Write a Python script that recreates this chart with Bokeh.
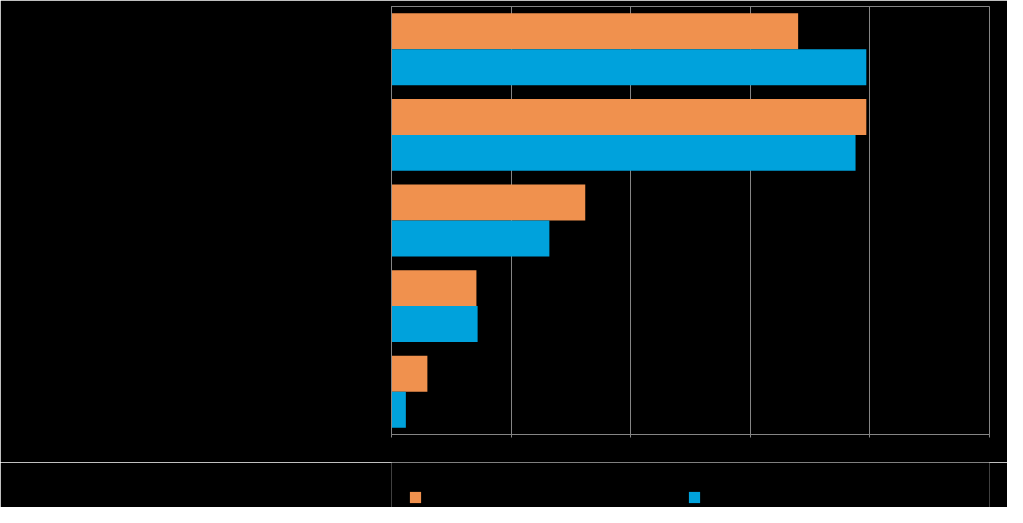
from bokeh.plotting import figure
from bokeh.models import FactorRange, Legend, LegendItem, NumeralTickFormatter, ColumnDataSource
from bokeh.layouts import column
from bokeh.transform import dodge
from bokeh.embed import file_html
from bokeh.resources import INLINE

categories = [
    "Kasvuhakuinen mahdollisuuksien mukaan",
    "Pyrkii säilyttämään asemansa",
    "Voimakkaasti kasvuhakuinen",
    "Ei kasvutavoitteita",
    "Lopettaminen tai luopuminen",
]
series_names = ["Alue", "Koko maa"]
orange_values = [34.0, 39.7, 16.2, 7.1, 3.0]
blue_values = [39.7, 38.8, 13.2, 7.2, 1.2]
x_ticks = [0, 10, 20, 30, 40, 50]

ORANGE = "#F0914E"
BLUE = "#00A2DC"
GRID = "#858585"
FONT = "Liberation Sans"

src = ColumnDataSource(dict(cat=categories, a=orange_values, b=blue_values))

p = figure(
    frame_width=598, frame_height=428,
    y_range=FactorRange(*categories[::-1]),
    x_range=(x_ticks[0], x_ticks[-1]),
    output_backend="svg", toolbar_location=None,
    background_fill_color="black", border_fill_color="black",
    min_border_left=391, min_border_right=18, min_border_top=6, min_border_bottom=28,
    outline_line_color=GRID,
)

p.hbar(y=dodge("cat", 0.21, range=p.y_range), right="a", left=0, height=0.42,
       source=src, fill_color=ORANGE, line_color=None)
p.hbar(y=dodge("cat", -0.21, range=p.y_range), right="b", left=0, height=0.42,
       source=src, fill_color=BLUE, line_color=None)

p.xaxis.ticker = x_ticks
p.xaxis.formatter = NumeralTickFormatter(format="0")
p.xaxis.axis_line_color = GRID
p.xaxis.major_tick_line_color = GRID
p.xaxis.major_tick_out = 3
p.xaxis.major_tick_in = 0
p.xaxis.minor_tick_line_color = None
p.xaxis.major_label_text_color = "black"
p.xaxis.major_label_text_font = FONT
p.xaxis.major_label_text_font_size = "12px"

p.yaxis.axis_line_color = GRID
p.yaxis.major_tick_line_color = None
p.yaxis.minor_tick_line_color = None
p.yaxis.major_label_text_color = "black"
p.yaxis.major_label_text_font = FONT
p.yaxis.major_label_text_font_size = "12px"

p.xgrid.grid_line_color = GRID
p.ygrid.grid_line_color = None

# legend strip below the chart (frames are aligned with the chart above);
# its bars have zero height, so only the legend keys show
lg = figure(
    width=1007, height=45,
    y_range=FactorRange(*categories[::-1]),
    x_range=(x_ticks[0], x_ticks[-1]),
    output_backend="svg", toolbar_location=None,
    background_fill_color="black", border_fill_color="black",
    min_border=0, outline_line_color=None,
)
lg.axis.visible = False
lg.grid.visible = False
la = lg.hbar(y="cat", right="a", left=0, height=0, source=src,
             fill_color=ORANGE, line_color=None)
lb = lg.hbar(y="cat", right="b", left=0, height=0, source=src,
             fill_color=BLUE, line_color=None)

legend = Legend(
    items=[LegendItem(label=series_names[0], renderers=[la]),
           LegendItem(label=series_names[1], renderers=[lb])],
    location=(17, 3), orientation="horizontal",
    background_fill_color="black", border_line_color=None,
    padding=0, margin=0, spacing=0,
    glyph_width=14, glyph_height=14, label_height=14,
    label_width=260, label_standoff=5,
    label_text_color="black", label_text_font=FONT, label_text_font_size="12px",
)
lg.add_layout(legend, "center")

layout = column(p, lg, spacing=0)

html = file_html(layout, INLINE)
html = html.replace("<body>", '<body style="background:#000000">', 1)
open("out.html", "w").write(html)
